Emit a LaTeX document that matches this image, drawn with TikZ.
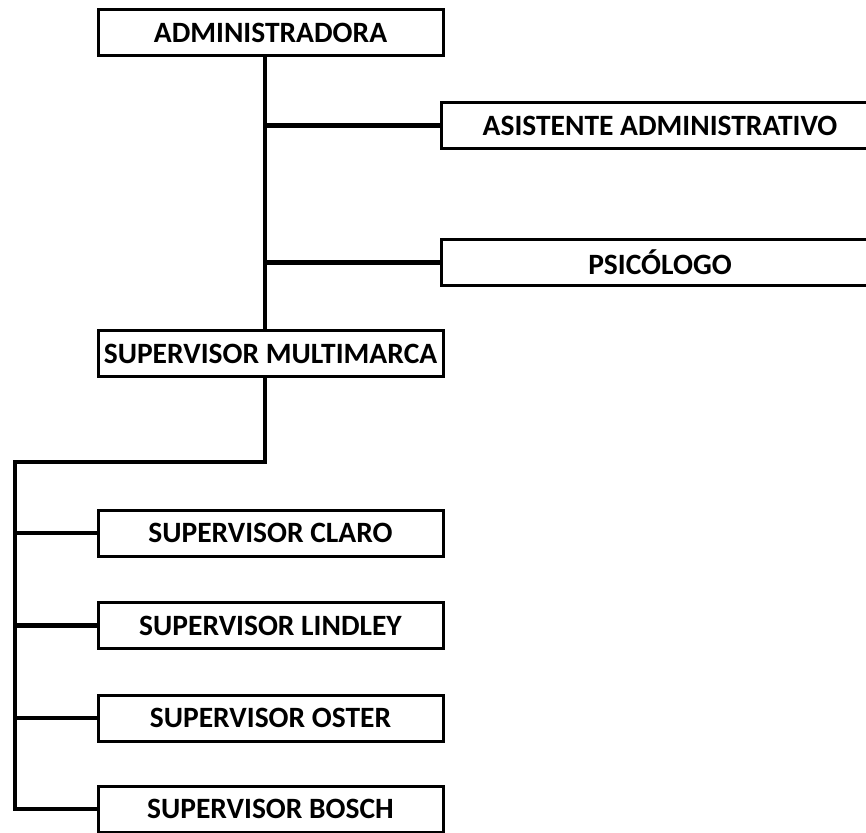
\documentclass[tikz,border=0pt]{standalone}
\usepackage{fontspec}
\setmainfont{Carlito}
\begin{document}
\begin{tikzpicture}[x=1pt,y=-1pt,
    cargo/.style={draw,line width=3pt,minimum height=46pt,inner sep=0pt,
      font=\fontsize{29.5}{33}\selectfont\bfseries},
    linea/.style={line width=4.5pt}]
  \clip (0,0) rectangle (866,832);
  % cajas
  \node[cargo,minimum width=345pt] (adm) at (270.5,33) {ADMINISTRADORA};
  \node[cargo,minimum width=438pt] (asist) at (660,125.5) {ASISTENTE ADMINISTRATIVO};
  \node[cargo,minimum width=438pt] (psico) at (660,262.5) {PSICÓLOGO};
  \node[cargo,minimum width=345pt] (multi) at (270.5,353.5) {SUPERVISOR MULTIMARCA};
  \node[cargo,minimum width=345pt] (claro) at (270.5,533) {SUPERVISOR CLARO};
  \node[cargo,minimum width=345pt] (lindley) at (270.5,625.5) {SUPERVISOR LINDLEY};
  \node[cargo,minimum width=345pt] (oster) at (270.5,718) {SUPERVISOR OSTER};
  \node[cargo,minimum width=345pt] (bosch) at (270.5,809) {SUPERVISOR BOSCH};
  % lineas
  \coordinate (trunk) at (265,0);
  \coordinate (bus) at (15,462);
  \draw[linea] (adm.south -| trunk) -- (multi.north -| trunk);
  \draw[linea] (trunk |- asist.west) -- (asist.west);
  \draw[linea] (trunk |- psico.west) -- (psico.west);
  \draw[linea] (multi.south -| trunk) |- (bus) -- (bus |- bosch.west) -- (bosch.west);
  \foreach \n in {claro,lindley,oster}
    \draw[linea] (bus |- \n.west) -- (\n.west);
\end{tikzpicture}
\end{document}
